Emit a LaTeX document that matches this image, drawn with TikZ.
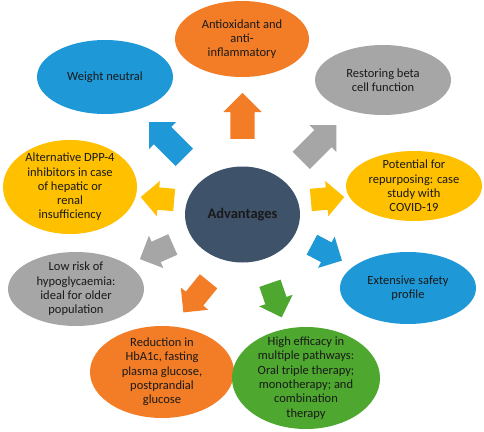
\documentclass[tikz,border=0pt]{standalone}
\usepackage{fontspec}
\setmainfont{Carlito}
\usetikzlibrary{shapes.geometric,shapes.arrows}
\definecolor{AdvOrange}{RGB}{243,125,38}
\definecolor{AdvBlue}{RGB}{30,152,214}
\definecolor{AdvGray}{RGB}{166,166,166}
\definecolor{AdvYellow}{RGB}{255,192,0}
\definecolor{AdvGreen}{RGB}{78,167,46}
\definecolor{AdvSlate}{RGB}{62,82,106}
\tikzset{
  bubble/.style={ellipse, inner sep=-6pt, align=center, text=black!90,
    font=\fontsize{12.5}{14.3}\selectfont},
  fatarrow/.style={single arrow, draw=none, inner sep=12pt,
    single arrow head extend=7pt, minimum height=48pt},
  smallarrow/.style={fatarrow, inner sep=11pt, single arrow head extend=6.5pt},
}

\begin{document}
\begin{tikzpicture}[x=1pt, y=-1pt]
      \useasboundingbox[fill=white] (0,0) rectangle (484,431);
      % centre
      \node[ellipse, fill=AdvSlate, minimum width=115pt, minimum height=96pt,
        font=\fontsize{14.5}{16}\selectfont\bfseries, text=black!90]
        (adv) at (242.5,214.5) {Advantages};
      % outer ellipses
      \node[bubble, fill=AdvOrange, minimum width=134pt, minimum height=76pt]
        (ao) at (242,39) {Antioxidant and\\anti-\\inflammatory};
      \node[bubble, fill=AdvBlue, minimum width=136pt, minimum height=74pt]
        (wn) at (105,77) {Weight neutral};
      \node[bubble, fill=AdvGray, minimum width=136pt, minimum height=70pt]
        (rb) at (383,80) {Restoring beta\\cell function};
      \node[bubble, fill=AdvYellow, minimum width=136pt, minimum height=70pt]
        (pr) at (414,186) {Potential for\\repurposing: case\\study with\\COVID-19};
      \node[bubble, fill=AdvYellow, minimum width=134pt, minimum height=94pt]
        (alt) at (70,187) {Alternative DPP-4\\inhibitors in case\\of hepatic or\\renal\\insufficiency};
      \node[bubble, fill=AdvGray, minimum width=136pt, minimum height=74pt]
        (lr) at (76,289) {Low risk of\\hypoglycaemia:\\ideal for older\\population};
      \node[bubble, fill=AdvBlue, minimum width=136pt, minimum height=72pt]
        (es) at (408,288) {Extensive safety\\profile};
      \node[bubble, fill=AdvOrange, minimum width=144pt, minimum height=92pt]
        (hb) at (162,372) {Reduction in\\HbA1c, fasting\\plasma glucose,\\postprandial\\glucose};
      \node[bubble, fill=AdvGreen, minimum width=148pt, minimum height=102pt]
        (he) at (306,378) {High efficacy in\\multiple pathways:\\Oral triple therapy;\\monotherapy; and\\combination\\therapy};
      % block arrows
      \node[fatarrow, fill=AdvOrange, rotate=90, minimum height=46pt] (aoArr) at (242.5,122) {};
      \node[fatarrow, fill=AdvBlue, rotate=135, minimum height=50pt] (wnArr) at (171,144) {};
      \node[fatarrow, fill=AdvGray, rotate=45, minimum height=50pt] (rbArr) at (314.5,147) {};
      \node[smallarrow, fill=AdvYellow, rotate=5, minimum height=30pt] (prArr) at (322,199) {};
      \node[smallarrow, fill=AdvYellow, rotate=175, minimum height=30pt] (altArr) at (163,199) {};
      \node[smallarrow, fill=AdvGray, rotate=204, minimum height=36pt] (lrArr) at (161.5,249.5) {};
      \node[smallarrow, fill=AdvBlue, rotate=-28, minimum height=34pt] (esArr) at (322,250) {};
      \node[smallarrow, fill=AdvOrange, rotate=231, minimum height=40pt] (hbArr) at (199.5,292.5) {};
      \node[smallarrow, fill=AdvGreen, rotate=-71, minimum height=36pt] (heArr) at (274,295) {};
    \end{tikzpicture}
\end{document}
